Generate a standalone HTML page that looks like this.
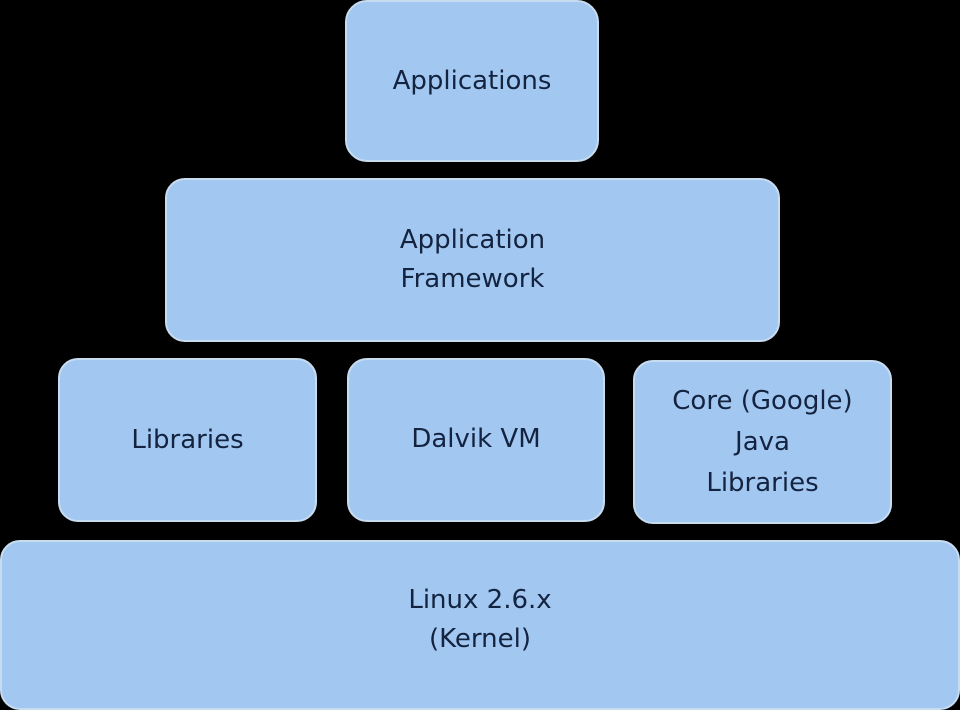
<!DOCTYPE html>
<html><head><style>
body{margin:0;width:960px;height:704px;background:#000;position:relative;overflow:hidden;font-family:"DejaVu Sans","Liberation Sans",sans-serif}
.b{position:absolute;background:#a2c8f2;border-radius:20px;box-sizing:border-box;border:2px solid #c8dcf0;display:flex;align-items:center;justify-content:center;text-align:center;color:#14233f;font-size:26px;line-height:39px}
</style></head><body>
<div class="b" style="left:345px;top:0;width:254px;height:162px;border-radius:22px">Applications</div>
<div class="b" style="left:165px;top:178px;width:615px;height:164px">Application<br>Framework</div>
<div class="b" style="left:58px;top:358px;width:259px;height:164px">Libraries</div>
<div class="b" style="left:347px;top:358px;width:258px;height:164px;padding-bottom:2px">Dalvik VM</div>
<div class="b" style="left:633px;top:360px;width:259px;height:164px;line-height:41px">Core (Google)<br>Java<br>Libraries</div>
<div class="b" style="left:0;top:540px;width:960px;height:170px;padding-bottom:10px">Linux 2.6.x<br>(Kernel)</div>
</body></html>
